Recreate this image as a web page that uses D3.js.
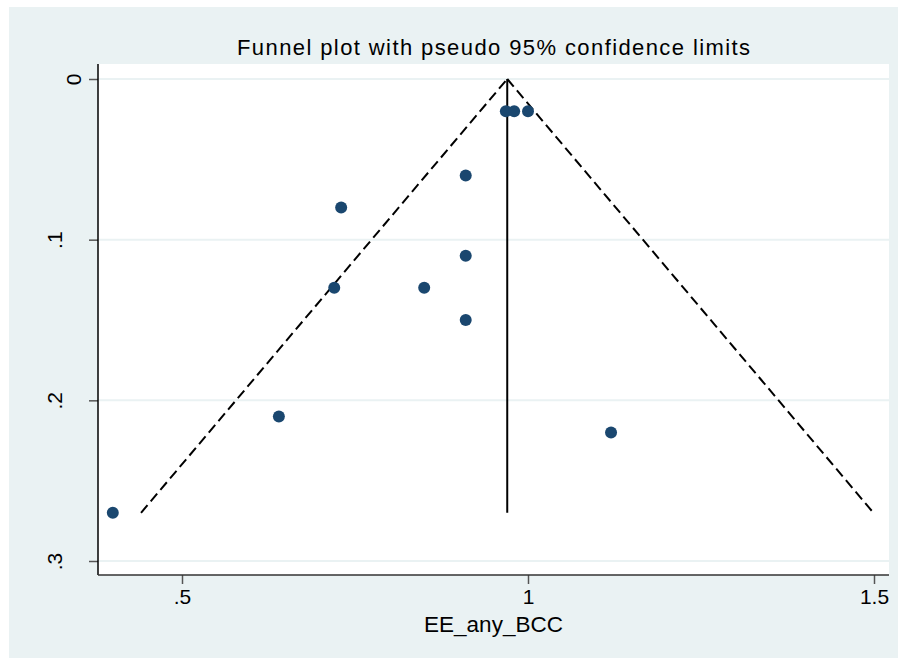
<!DOCTYPE html>
<html>
<head>
<meta charset="utf-8">
<script src="https://cdn.jsdelivr.net/npm/d3@7"></script>
<style>
  html, body { margin: 0; padding: 0; background: #ffffff; }
  svg { display: block; font-family: "Liberation Sans", Arial, Helvetica, sans-serif; }
</style>
</head>
<body>
<svg id="chart" width="898" height="658"></svg>
<script>
// Study estimates (effect, standard error)
const studyEffect = [0.968, 0.98, 1.00, 0.91, 0.73, 0.91, 0.72, 0.85, 0.91, 0.64, 1.12, 0.40];
const studySE     = [0.02, 0.02, 0.02, 0.06, 0.08, 0.11, 0.13, 0.13, 0.15, 0.21, 0.22, 0.27];
// Pooled estimate and the largest standard error (funnel depth)
const pooledEffect = 0.97;
const maxSE = 0.27;
// Axis ticks
const xTicks = [0.5, 1, 1.5];
const xTickLabels = [".5", "1", "1.5"];
const yTicks = [0, 0.1, 0.2, 0.3];
const yTickLabels = ["0", ".1", ".2", ".3"];
const titleText = "Funnel plot with pseudo 95% confidence limits";
const xTitle = "EE_any_BCC";

const svg = d3.select("#chart");
const bg = "#eaf2f3";
const navy = "#1a476f";

// Graph region and plot region
const region = { x: 9, y: 7, w: 889, h: 651 };
const plot = { left: 98, right: 889, top: 64, bottom: 575 };

svg.append("rect")
  .attr("x", region.x).attr("y", region.y)
  .attr("width", region.w).attr("height", region.h)
  .attr("fill", bg);

svg.append("rect")
  .attr("x", plot.left).attr("y", plot.top)
  .attr("width", plot.right - plot.left).attr("height", plot.bottom - plot.top)
  .attr("fill", "#ffffff");

const x = d3.scaleLinear().domain([0.5, 1.5]).range([182, 874]);
const y = d3.scaleLinear().domain([0, 0.3]).range([79, 561]);

// Horizontal gridlines
svg.append("g").selectAll("line")
  .data(yTicks)
  .join("line")
  .attr("x1", plot.left).attr("x2", plot.right)
  .attr("y1", d => y(d)).attr("y2", d => y(d))
  .attr("stroke", bg).attr("stroke-width", 2);

// Y axis
const yAxis = d3.axisLeft(y)
  .tickValues(yTicks)
  .tickFormat((d, i) => yTickLabels[i])
  .tickSize(9)
  .tickPadding(0);
const gy = svg.append("g")
  .attr("transform", `translate(${plot.left},0)`)
  .call(yAxis);
gy.select(".domain").remove();
gy.selectAll(".tick line").attr("stroke", "#555555").attr("stroke-width", 1.5);
gy.selectAll(".tick text")
  .attr("fill", "#000")
  .style("font-size", "21px")
  .attr("text-anchor", "middle")
  .attr("dy", 0)
  .attr("x", 0)
  .attr("transform", (d, i) => {
    const bx = yTickLabels[i].length > 1 ? -36 : -17;
    return `translate(${bx},0) rotate(-90)`;
  });
gy.append("line")
  .attr("x1", 0).attr("x2", 0)
  .attr("y1", plot.top).attr("y2", plot.bottom)
  .attr("stroke", "#000").attr("stroke-width", 1.5);

// X axis
const xAxis = d3.axisBottom(x)
  .tickValues(xTicks)
  .tickFormat((d, i) => xTickLabels[i])
  .tickSize(9)
  .tickPadding(5);
const gx = svg.append("g")
  .attr("transform", `translate(0,${plot.bottom})`)
  .call(xAxis);
gx.select(".domain").remove();
gx.selectAll(".tick line").attr("stroke", "#555555").attr("stroke-width", 1.5);
gx.selectAll(".tick text")
  .attr("fill", "#000")
  .style("font-size", "21px")
  .attr("dy", "0.71em");
gx.append("line")
  .attr("x1", plot.left).attr("x2", plot.right)
  .attr("y1", 0).attr("y2", 0)
  .attr("stroke", "#333").attr("stroke-width", 1.5);

// Pseudo 95% confidence limits
const lo = pooledEffect - 1.96 * maxSE;
const hi = pooledEffect + 1.96 * maxSE;
const funnel = [
  [[lo, maxSE], [pooledEffect, 0]],
  [[pooledEffect, 0], [hi, maxSE]]
];
const line = d3.line().x(d => x(d[0])).y(d => y(d[1]));
svg.append("g").selectAll("path")
  .data(funnel)
  .join("path")
  .attr("d", line)
  .attr("fill", "none")
  .attr("stroke", "#000")
  .attr("stroke-width", 2)
  .attr("stroke-dasharray", "10,5");

// Pooled estimate line
svg.append("path")
  .attr("d", line([[pooledEffect, 0], [pooledEffect, maxSE]]))
  .attr("stroke", "#000")
  .attr("stroke-width", 2);

// Study points
svg.append("g").selectAll("circle")
  .data(studyEffect.map((e, i) => ({ e, se: studySE[i] })))
  .join("circle")
  .attr("cx", d => x(d.e))
  .attr("cy", d => y(d.se))
  .attr("r", 6)
  .attr("fill", navy);

// Titles
const cx = (plot.left + plot.right) / 2;
svg.append("text")
  .attr("x", cx).attr("y", 55)
  .attr("text-anchor", "middle")
  .attr("textLength", 513)
  .attr("lengthAdjust", "spacing")
  .style("font-size", "22px")
  .attr("fill", "#000")
  .text(titleText);

svg.append("text")
  .attr("x", cx).attr("y", 632)
  .attr("text-anchor", "middle")
  .style("font-size", "22.5px")
  .attr("fill", "#000")
  .text(xTitle);
</script>
</body>
</html>
